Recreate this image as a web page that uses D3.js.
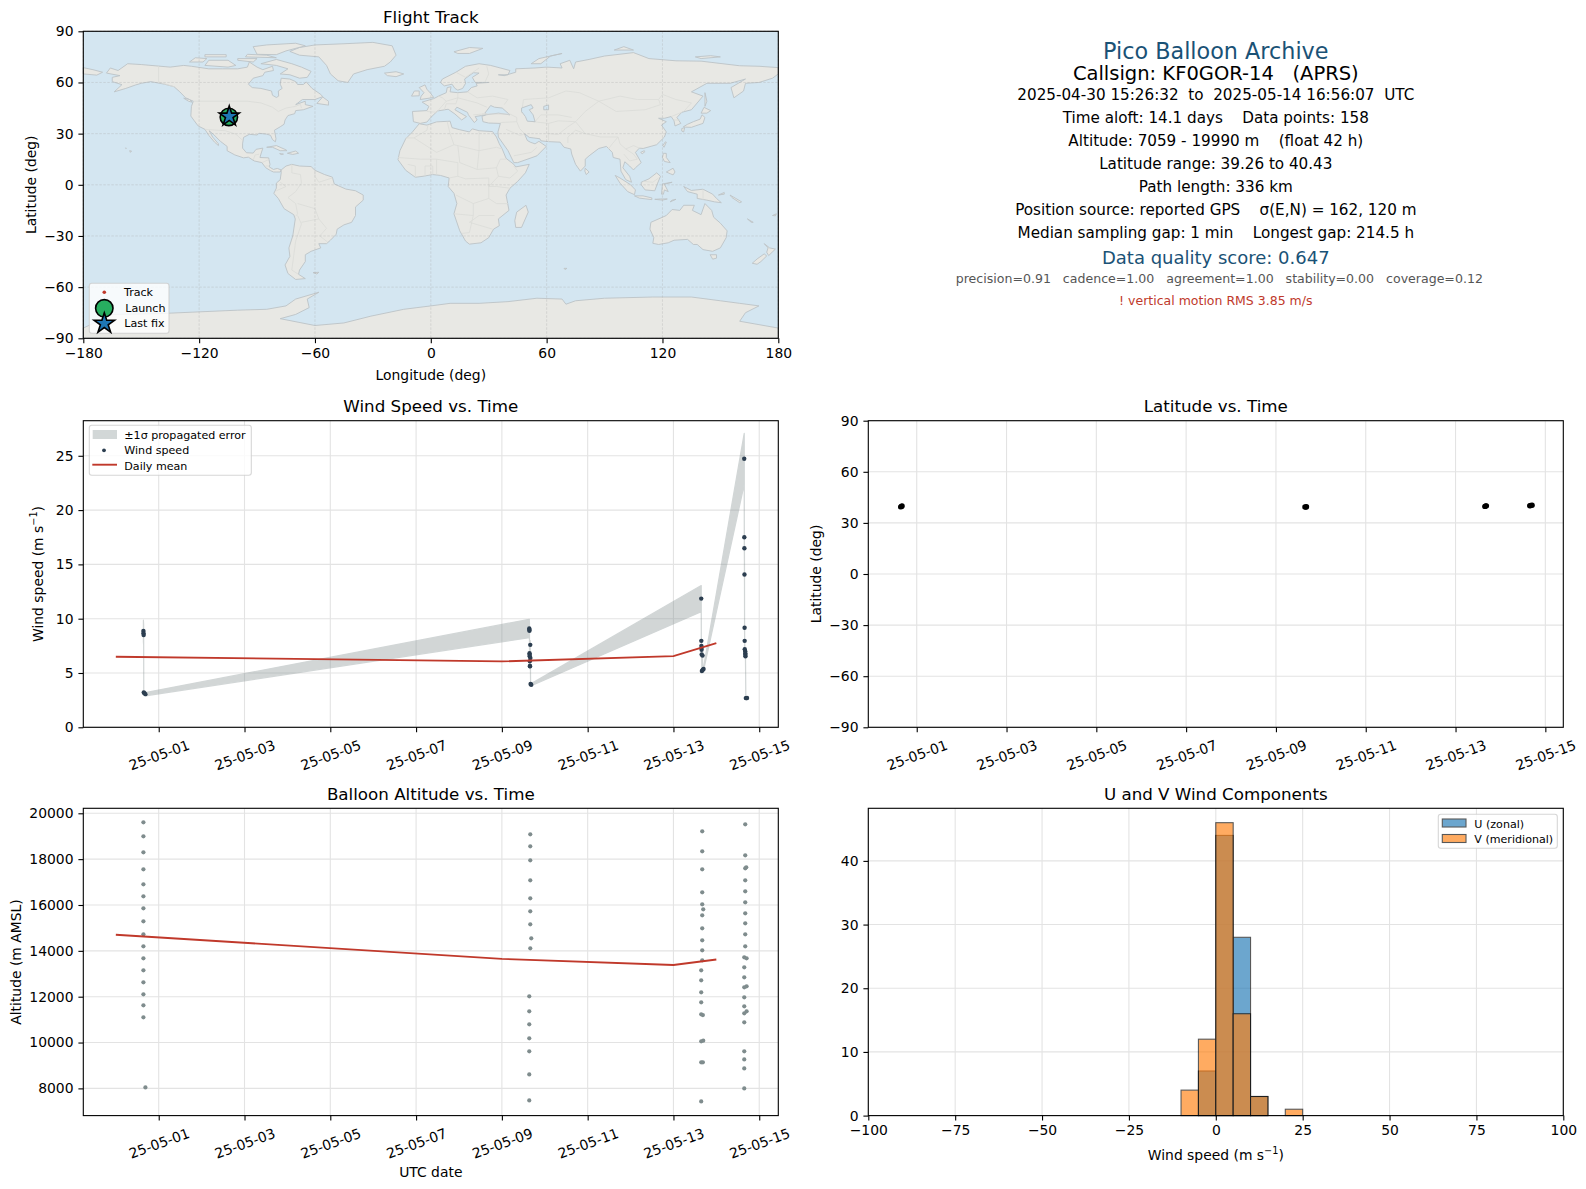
<!DOCTYPE html>
<html>
<head>
<meta charset="utf-8">
<script src="https://cdn.jsdelivr.net/npm/d3@7"></script>
<style>
    html, body { margin: 0; padding: 0; background: #fff; }
    text { font-family: "DejaVu Sans", sans-serif; white-space: pre; }
</style>
</head>
<body>
<svg id="fig" width="1586" height="1189"></svg>
<script>
// ---- values ----

const lonTicks = [-180, -120, -60, 0, 60, 120, 180]
const latTicks = [-90, -60, -30, 0, 30, 60, 90]
const dateTicks = ["2025-05-01", "2025-05-03", "2025-05-05", "2025-05-07", "2025-05-09", "2025-05-11", "2025-05-13", "2025-05-15"]
const windTicks = [0, 5, 10, 15, 20, 25]
const altTicks = [8000, 10000, 12000, 14000, 16000, 18000, 20000]
const histXTicks = [-100, -75, -50, -25, 0, 25, 50, 75, 100]
const histYTicks = [0, 10, 20, 30, 40]

const summaryLines = [
    "Pico Balloon Archive",
    "Callsign: KF0GOR-14   (APRS)",
    "2025-04-30 15:26:32  to  2025-05-14 16:56:07  UTC",
    "Time aloft: 14.1 days    Data points: 158",
    "Altitude: 7059 - 19990 m    (float 42 h)",
    "Latitude range: 39.26 to 40.43",
    "Path length: 336 km",
    "Position source: reported GPS    \u03c3(E,N) = 162, 120 m",
    "Median sampling gap: 1 min    Longest gap: 214.5 h",
    "Data quality score: 0.647",
    "precision=0.91   cadence=1.00   agreement=1.00   stability=0.00   coverage=0.12",
    "! vertical motion RMS 3.85 m/s"
]

const windTimes = [
    "04-30 15:26", "04-30 15:30", "04-30 15:34", "04-30 15:38", "04-30 16:00", "04-30 16:33",
    "05-09 15:20", "05-09 15:23", "05-09 15:26", "05-09 15:29", "05-09 15:32", "05-09 15:35", "05-09 15:38",
    "05-09 15:42", "05-09 15:45", "05-09 15:53", "05-09 15:56", "05-09 16:04", "05-09 16:26",
    "05-13 15:33", "05-13 15:36", "05-13 15:39", "05-13 15:42", "05-13 15:45", "05-13 15:48",
    "05-13 15:55", "05-13 16:17", "05-13 16:20", "05-13 16:50",
    "05-14 15:36", "05-14 15:39", "05-14 15:42", "05-14 15:45", "05-14 15:48", "05-14 15:51", "05-14 15:54",
    "05-14 16:09", "05-14 16:12", "05-14 16:15", "05-14 16:18", "05-14 16:30", "05-14 16:50", "05-14 17:10"
]
const windSpeeds = [
    8.86, 8.67, 8.49, 3.2, 3.15, 3.05,
    9.1, 8.98, 8.89, 6.82, 6.67, 6.54, 6.08,
    5.65, 5.62, 7.59, 6.39, 3.98, 3.92,
    11.85, 7.96, 7.5, 7.31, 7.13, 6.7,
    5.18, 6.6, 5.28, 5.37,
    24.72, 17.5, 16.48, 14.07, 9.17, 7.96, 7.19,
    7.0, 6.82, 6.67, 6.54, 2.69, 2.69, 2.7
]
const windSigma = [
    1.0, 0.95, 0.9, 0.2, 0.18, 0.15,
    0.85, 0.8, 0.75, 0.4, 0.35, 0.3, 0.3,
    0.25, 0.25, 0.4, 0.3, 0.12, 0.1,
    1.2, 0.4, 0.35, 0.35, 0.3, 0.3,
    0.12, 0.3, 0.12, 0.15,
    2.35, 1.2, 1.1, 0.9, 0.4, 0.3, 0.3,
    0.25, 0.25, 0.25, 0.25, 0.08, 0.08, 0.08
]

const meanDays = ["04-30 00:00", "05-09 00:00", "05-13 00:00", "05-14 00:00"]
const meanWind = [6.5, 6.07, 6.55, 7.75]
const meanAlt = [14700, 13650, 13380, 13620]

const altTimes = [
    "04-30 15:26", "04-30 15:26", "04-30 15:26", "04-30 15:26", "04-30 15:26", "04-30 15:26", "04-30 15:26", "04-30 15:26",
    "04-30 15:26", "04-30 15:26", "04-30 15:26", "04-30 15:26", "04-30 15:26", "04-30 15:26", "04-30 15:26", "04-30 15:26", "04-30 16:33",
    "05-09 15:53", "05-09 15:53", "05-09 15:53", "05-09 15:53", "05-09 15:53", "05-09 15:53", "05-09 15:53", "05-09 16:27", "05-09 15:53",
    "05-09 15:20", "05-09 15:20", "05-09 15:20", "05-09 15:20", "05-09 15:20", "05-09 15:20", "05-09 15:20",
    "05-13 16:06", "05-13 16:06", "05-13 16:06", "05-13 16:06", "05-13 16:06", "05-13 16:40", "05-13 16:06", "05-13 16:06", "05-13 16:06", "05-13 16:06", "05-13 16:06",
    "05-13 15:32", "05-13 15:32", "05-13 15:32", "05-13 15:32", "05-13 15:32", "05-13 16:28", "05-13 15:32", "05-13 16:40", "05-13 15:32", "05-13 16:28", "05-13 15:32",
    "05-14 16:10", "05-14 16:10", "05-14 16:10", "05-14 16:44", "05-14 16:10", "05-14 16:10", "05-14 16:10", "05-14 16:10", "05-14 16:10", "05-14 16:10", "05-14 16:10",
    "05-14 15:37", "05-14 16:56", "05-14 15:37", "05-14 15:37", "05-14 15:37", "05-14 16:56", "05-14 15:37", "05-14 15:37", "05-14 15:37", "05-14 16:56", "05-14 15:37",
    "05-14 15:37", "05-14 15:37", "05-14 15:37", "05-14 15:37"
]
const altValues = [
    19607, 18996, 18298, 17556, 16901, 16378, 15854, 15287, 14720, 14196, 13673, 13149, 12625, 12102, 11622, 11098, 8044,
    19083, 18560, 17949, 17076, 16291, 15723, 15156, 14545, 14109,
    12014, 11360, 10793, 10182, 9615, 8611, 7476,
    19214, 18342, 17556, 16552, 16029, 15811, 15549, 14982, 14458, 14022, 13585,
    13149, 12713, 12189, 11753, 11229, 11200, 10051, 10080, 9135, 9135, 7433,
    19520, 18167, 17600, 17644, 17076, 16596, 16116, 15636, 15200, 14720, 14196,
    13716, 13673, 13280, 12843, 12407, 12451, 11971, 11578, 11273, 11360, 10880,
    9615, 9265, 8873, 8000
]

const latTimes = ["04-30 15:26", "04-30 15:50", "04-30 16:10", "05-09 15:30", "05-09 16:00", "05-09 16:20", "05-13 15:40", "05-13 16:10", "05-13 16:30", "05-14 15:40", "05-14 16:15", "05-14 16:56"]
const latValues = [39.4, 39.7, 39.9, 39.3, 39.26, 39.45, 39.7, 39.9, 40.0, 40.05, 40.25, 40.43]

const trackLon = [-104.9, -104.5, -104.2, -103.9]
const trackLat = [39.4, 39.3, 39.9, 40.43]
const launchPos = [-104.6, 39.8]
const lastPos = [-104.4, 40.1]

// histogram: 5 m/s bins from -100 to 100
const binEdges = d3.range(-100, 100, 5)
const uCounts = [0,0,0,0,0,0,0,0,0,0,0,0,0,0,0,0,0,0,0,7,44,28,3,0,0,0,0,0,0,0,0,0,0,0,0,0,0,0,0,0]
const vCounts = [0,0,0,0,0,0,0,0,0,0,0,0,0,0,0,0,0,0,4,12,46,16,3,0,1,0,0,0,0,0,0,0,0,0,0,0,0,0,0,0]

// rough coastlines, lon/lat
const land = [
    // north america
    [[-168,65.5],[-166,68.5],[-162,67],[-157,71],[-150,70.5],[-141,69.6],[-135,69],[-128,70],[-124,69.5],[-115,68],[-108,68],[-100,68],[-95,69],[-94,72],[-90,69],[-87,67.5],[-82,69.5],[-81.5,67],[-86,66],[-87,64],[-92,62.5],[-94.5,59],[-92.5,57],[-88,56.5],[-82.5,55],[-82,52.5],[-80,51.2],[-78.8,52],[-79,55],[-77,56.5],[-78,59],[-77.5,62.5],[-73,62],[-70,60.5],[-69,58.8],[-66,58.8],[-64.5,60.3],[-61.5,56.5],[-57,53],[-56,51.7],[-60,50],[-66.5,50],[-70,47],[-65,49],[-65,47],[-61,46],[-66,44],[-70,43.5],[-70.5,41.7],[-74,40.6],[-75.5,38],[-76,35.5],[-78,34],[-81,32],[-80.2,27],[-80.5,25.2],[-82,26.5],[-83,29],[-85,29.7],[-89,30.2],[-90,29.2],[-94,29.6],[-97,27.8],[-97.5,24],[-97.5,21.5],[-95.5,18.8],[-92,18.6],[-90.5,20.8],[-87,21.5],[-88,18],[-88.5,16],[-84,15.8],[-83.3,12],[-83.7,10.5],[-81.5,9],[-79.5,9.6],[-77.5,8.7],[-78,7.5],[-80,7.5],[-81.5,7.5],[-83,8.3],[-85.5,10],[-87.5,13],[-91.5,14],[-94.5,16.2],[-97,15.8],[-101.5,17.5],[-105.5,20],[-105.5,22.5],[-109,25.5],[-112.5,29.5],[-114.8,31.7],[-113,28],[-110,24],[-110,23],[-112,25],[-115,29],[-117,32.5],[-120.5,34.5],[-122.5,37.5],[-124.3,40.3],[-124,46],[-123,49],[-127,51],[-130,54.5],[-133,57.5],[-138,59],[-145,60.5],[-150,59.5],[-153,58.5],[-158,56.5],[-164,54.5],[-160,58.7],[-165,60.5],[-165,63],[-161,64]],
    // south america
    [[-77.5,8.7],[-75,11],[-72,12],[-68,11],[-62,10.7],[-60,8.5],[-55,6],[-51,4.5],[-50,0.5],[-44,-2.5],[-39,-3.5],[-35,-6],[-35,-9],[-39,-13],[-39,-18],[-41,-22],[-45,-23.5],[-48.5,-26],[-49,-29],[-52,-32.5],[-54,-34.5],[-58,-34.5],[-57,-37],[-62,-39],[-65,-41],[-65,-45],[-68,-50],[-68.5,-52.5],[-65,-55],[-70,-55.5],[-74,-52],[-75.5,-47],[-73,-42],[-73.5,-37],[-71.5,-30],[-70.2,-20],[-71,-17.5],[-76,-14],[-79,-8],[-81.3,-5],[-80,-2],[-80,1],[-78,3],[-77.5,7]],
    // greenland
    [[-73,78.2],[-68,80.5],[-60,82],[-45,82.7],[-30,83.5],[-20,81.5],[-18,76],[-21,72],[-24,69.5],[-33,67.5],[-40,65],[-43,60],[-48,61],[-52,65],[-54,70],[-58,75],[-68,76]],
    // africa
    [[-6,35.8],[-2,35],[3,36.9],[10,37.3],[11,33.5],[15,32.3],[20,31],[21.5,32.8],[25,31.7],[32,31.2],[34,28],[35.5,24],[37,21],[39,15.5],[43,12],[44,10.5],[51,12],[49,7],[45,2],[41,-2],[39,-6],[40.5,-15],[35,-20],[35.5,-24],[32.5,-26],[30,-31],[26,-34],[20,-34.8],[18,-33],[15,-27],[12,-17],[13.5,-11],[12,-5],[9,-1],[9.5,4],[5,5.5],[1,6],[-4,5],[-8,4.4],[-13,8.5],[-17,14.7],[-16,20],[-13,27],[-9.5,31]],
    // eurasia
    [[-9,37],[-9.5,43],[-2,43.5],[-1,46],[-4.5,48.5],[1.5,50.5],[4,52],[8,54],[8.5,57],[10.5,57.5],[10,54.5],[14,54],[19,54.5],[21,57],[24,58],[23.5,59.5],[30,60],[23,60],[21.5,63],[25,65.5],[22,65.7],[17.5,62],[18,59.5],[16.5,56.5],[14,55.5],[12.5,56.5],[11,59],[7,58],[5,60],[6,62],[13,66],[18,69.5],[25,71],[31,70],[41,67],[40,64.5],[35,64.5],[38,64],[44,66],[44,68],[54,68.5],[60,69],[68,68.5],[67,71],[72,73],[74,68],[75,72],[82,73.5],[90,75.5],[105,77.5],[113,74],[127,72.7],[140,72.5],[160,69.8],[170,69.5],[180,68.7],[180,65],[177,62.5],[170,60],[163,59.5],[162,55],[157,51],[155.5,57],[163,62],[155,59.5],[143,59.5],[135,54.5],[141,52],[135,44],[130,42.5],[127.5,39.5],[129.5,36],[126.5,34.5],[126,37.5],[124.5,40],[121,39],[118,39],[122,37],[119.5,35],[122,31],[121,28],[117,23.5],[110,21.3],[108,21.5],[106,19],[109,13],[106,10],[105,8.7],[103,11],[100.5,13.5],[99.5,10],[103,5],[104,1.5],[101,3],[98.5,8],[98,15],[94.5,16],[94,19],[91,22.5],[87,21.3],[82,17],[80,15],[80,11],[77.5,8],[75,12],[73,18],[72.5,21],[69,22],[67,25],[61,25.3],[57,25.8],[56.5,27],[51,27.8],[48.5,30],[50,26],[51.5,25],[54,24],[56,25.5],[59.8,22.5],[55,17],[45,13],[43,13],[40,20],[35,28],[34.8,31],[36,36],[30,36.2],[27,37],[26.5,40.2],[29,41.1],[35,42],[41,41],[37,45],[33,45.5],[31,46.5],[28,42],[28.8,41.3],[26.3,40.6],[23,40],[24,38],[22.5,36.5],[19.5,41],[19,42.5],[13.5,45.5],[12.5,44],[18.5,40],[16,38],[12.5,41.5],[9,44.3],[3.5,43.3],[0,39.5],[-2,36.8],[-5.5,36]],
    // far east tip of russia, wrapped to the left edge
    [[-180,68.7],[-175,67.5],[-170,66],[-173,64.3],[-180,65]],
    // australia and friends
    [[114,-22],[122,-18],[125,-14.5],[129,-15],[131,-12],[136.5,-12],[135.5,-15],[140,-17.5],[142,-11],[145.5,-15],[146.5,-19],[150,-22.5],[153.5,-27],[153,-31],[150,-37],[146,-39],[141,-38],[138,-35],[136,-35],[133,-32],[126,-32.5],[123,-34],[118,-35],[115,-34.3],[115.5,-31],[113.5,-26]],
    [[144.7,-41],[148,-41],[148,-43],[146,-43.6]],
    [[172.7,-34.5],[175.5,-37],[178.5,-37.7],[175,-41.5],[174,-39.5],[174.7,-37]],
    [[172.7,-40.5],[174,-41.7],[171,-45],[169,-46.6],[166.5,-46],[169,-43.5]],
    [[131,-1],[135,-3.3],[141,-2.6],[146,-5.5],[148,-8],[150.5,-10.5],[147,-10],[143,-9],[138,-8],[138,-5.5],[133,-4]],
    [[149,-6],[152,-4.5],[152,-5.5]],
    [[155,-6],[158,-8],[161,-10],[160,-10.5],[156,-7.5]],
    [[164,-20],[167,-22],[166,-22]],
    [[177,-18],[179,-17],[178.5,-18.2]],
    // madagascar, sri lanka
    [[49.3,-12],[50.5,-16],[47,-25],[44,-25],[43.5,-21],[44.5,-16]],
    [[80,9.7],[82,7.5],[80.5,6],[79.8,8]],
    // asia islands
    [[109,1.5],[113,3.5],[117,7],[119,5],[117.5,1],[116,-3.5],[111,-3],[109,0]],
    [[95.5,5.5],[98,4],[103.5,0],[106,-3],[105.5,-5.8],[102,-4],[98,1]],
    [[105.5,-6.5],[110,-6.5],[114.5,-7.7],[114.5,-8.7],[108,-7.8]],
    [[119.5,-5.5],[120,0.5],[125,1.5],[121,0.3],[123,-4],[121,-3],[120.5,-5.5]],
    [[124,-10],[127,-8.5],[125,-9]],
    [[116,-8.5],[119,-8.3],[122.5,-8.3],[120,-9]],
    [[120.5,18.5],[122,18.4],[122,16],[124,13],[121,13.7],[120,16]],
    [[122,7.5],[125.5,9.7],[126.5,7.5],[125.5,5.8],[124,6.5]],
    [[120.2,23],[121.5,25.2],[122,25],[120.8,22]],
    [[108.7,19],[110.5,20],[111,19.5],[109.5,18.2]],
    [[130.8,34],[133,35.5],[136,37],[139.5,38.5],[140.5,41],[142,39.5],[141,36],[137,34.5],[135,33.7],[132,33.8]],
    [[130,33],[131.5,33.5],[131,31],[130,31.5]],
    [[140,42],[141.5,45.4],[145,43.5],[143,42]],
    [[142,54],[143,49],[142,46],[142,50]],
    // atlantic and arctic
    [[-5.5,50],[1.5,51.2],[0,53.5],[-2,56],[-3,58.6],[-6,57],[-3.5,54],[-5,52]],
    [[-10,52],[-6,52.2],[-6,55],[-8.5,55]],
    [[-24,65.5],[-18,66.3],[-14,65],[-18,63.4],[-22.5,64]],
    [[12,78],[20,80.5],[27,80],[20,77],[14,77]],
    [[52,71],[56,74],[68,77],[62,75.5],[57,71]],
    [[95,79],[105,79],[100,81]],
    [[137,75],[145,75.7],[150,75],[140,74]],
    [[-80,73.5],[-72,71],[-67,69],[-62,66.5],[-64,63],[-68,62.5],[-73,64.5],[-78,65],[-74,68],[-80,70],[-88,71]],
    [[-90,76.5],[-80,76.3],[-75,78.5],[-65,81.5],[-70,83],[-85,82],[-92,81]],
    [[-117,70],[-105,69],[-101,70],[-105,73],[-115,73]],
    [[-125,72],[-118,72],[-116,74],[-122,74.5]],
    [[-96,75],[-80,74.5],[-85,76],[-95,76.5]],
    [[-100,73],[-92,72],[-90,74],[-100,74]],
    [[-117,75],[-106,75],[-106,76.3],[-117,76.3]],
    [[-59,47.7],[-53,46.7],[-53,49],[-56,51.5]],
    [[-128,50.8],[-125,50],[-123.5,48.4],[-125.5,49]],
    [[-85,22],[-80,23],[-75,20.5],[-74.5,20],[-78,20],[-82,22]],
    [[-74.3,18.5],[-70,19.8],[-68.5,18.5],[-71.5,17.8]],
    [[-78.3,18.3],[-76.3,18],[-77.5,17.8]],
    [[-156,20],[-155,19.8],[-155.6,19]],
    [[-158.2,21.6],[-157.7,21.4],[-157.9,21.2]],
    [[-61,-51.5],[-58,-51.3],[-59,-52.3]],
    [[69,-49],[70.5,-49],[69.5,-49.7]],
    // antarctica
    [[-180,-84],[-165,-76],[-140,-75.5],[-120,-74.5],[-100,-73.5],[-85,-73],[-75,-71],[-70,-67],[-58,-63],[-64,-67],[-63,-72],[-70,-76],[-78,-78.5],[-60,-82.5],[-45,-81],[-31,-77],[-14,-73],[0,-71],[10,-69.5],[25,-69.5],[40,-68.5],[55,-66.5],[68,-67],[70,-70],[75,-68],[90,-66.5],[115,-65.8],[135,-65.8],[150,-68],[160,-69.5],[170,-71],[163,-75],[160,-80],[170,-82],[180,-84],[180,-90],[-180,-90]]
]
const lakes = [
    [[47,45],[52,47],[53,45],[51,44],[53,41],[54,37],[50,37.3],[49,40],[47,43]],
    [[58.5,46],[61,46.8],[61,44],[58.5,44]]
]
const borders = [
    [[-141,69.6],[-141,60.3],[-133,57.5]], [[-123,49],[-95,49],[-88,48],[-82,45.5],[-79,43],[-75,45],[-70,46],[-67.5,47.2],[-67,45]],
    [[-117,32.5],[-106.5,31.7],[-101,29.7],[-97.3,25.9]], [[-92,14.5],[-91,17.5],[-89,17.9]], [[-87.5,13],[-83.5,15]], [[-85.5,11],[-83.7,11]],
    [[-72,12],[-72,7],[-67.5,6],[-67,1],[-70,-4],[-74,-7.5],[-70,-11],[-69,-17],[-70,-18.5]], [[-80,-3.5],[-75,-1],[-78,1.5]], [[-60,8.5],[-60,5],[-58,1.5],[-51,4]],
    [[-69,-11],[-60,-14],[-58,-20],[-54,-25.5],[-57.5,-30],[-53.5,-33.5]], [[-69,-18],[-67,-23],[-70,-33],[-72,-50],[-68.5,-52.5]], [[-67,-22],[-58,-20]],
    [[-8.7,27.5],[-2,32],[-1.5,35]], [[-13,27.5],[-8.7,27.5],[3,19],[12,23.5],[10,30],[8.5,37]], [[25,31.7],[25,20],[34,22],[37,21]], [[12,23.5],[25,20],[24,9],[15,13],[14,23]], [[-17,16],[-5,15],[3,15],[14,13],[14,5],[9.5,4]],
    [[3,6],[3,15]], [[-8,4.4],[-8,11],[-12,12]], [[-3,5],[-3,11],[1,11],[1,6]], [[24,9],[34,10],[36,15],[39,15]], [[34,10],[35,5],[41,4],[45,8],[43,11]], [[35,5],[30,-1],[34,-1],[41,-2]],
    [[14,5],[18,3.5],[30,4],[30,-8],[22,-11],[13,-6]], [[22,-11],[22,-18],[12,-17]], [[30,-8],[34,-11],[40,-11]], [[22,-18],[20,-28],[16,-28.5]], [[33,-18],[25,-18],[20,-22],[32,-26]],
    [[-2,43],[3,42.5],[8,49],[6,51],[4,52]], [[8,49],[14,51],[19,49.5],[24,48],[29,45.5]], [[14,54],[14,51],[13,47.5],[8,47.5],[7,44]], [[19,54.5],[24,51],[32,52],[40,50],[38,47]],
    [[28,60],[30,65],[29,69.5]], [[13,66],[18,63],[25,68.5]], [[22,41],[29,41.7]], [[26.5,41.5],[41,41.5],[44.5,39.5],[44.5,37],[36,36.5]], [[44.5,37],[46,33],[48.5,30]], [[39,32.5],[46,29],[48,29.5]], [[43,17],[52,19],[55,22]],
    [[47,42],[48,50],[61,51],[70,55],[77,54],[87,49]], [[87,49],[98,52],[107,50],[118,50],[120,53],[127,50],[135,48],[131,43]], [[87,49],[96,43],[111,44],[119,47],[118,50]], [[53,37],[61,36],[66,37.5],[75,37]],
    [[61,36],[61,30],[61,25.3]], [[61,30],[66,29.5],[71,34],[75,37],[80,30],[88,28],[97,28]], [[75,37],[80,43],[87,49]], [[71,24.5],[71,28],[75,32],[80,30]], [[97,28],[98,24],[101,21],[105,23],[108,21.5]], [[92,21],[94,24],[97,28]],
    [[101,21],[105,18],[107,15],[103,14],[100,18]], [[54,37],[57,41],[66,41],[73,39.5]], [[124.5,40],[130,42.5]], [[126,38],[129,38]], [[141,-2.6],[141,-9]], [[110,2],[115,1.5],[118,4]]
]

// ---- layout ----

const parseT = d3.utcParse("%Y-%m-%d %H:%M")
const t = s => parseT("2025-" + s)
const parseD = d3.utcParse("%Y-%m-%d")

const fmtDate = d3.utcFormat("%y-%m-%d")
const fmtSigned = d => String(d).replace("-", "\u2212")

const svg = d3.select("#fig")

const FONT = 13.9
const INK = "#000"
const GRID = "#e3e3e3"
const RED = "#c0392b"
const NAVY = "#2c3e50"
const SLATE = "#7f8c8d"
const BLUE_TXT = "#1a5276"

function panel(box, title, xScale, yScale, xTickVals, yTickVals, xFmt, yFmt, rotate){
    const g = svg.append("g")
    const grid = g.append("g")
    xTickVals.forEach(v => {
        grid.append("line").attr("x1", xScale(v)).attr("x2", xScale(v))
            .attr("y1", box.top).attr("y2", box.bottom)
    })
    yTickVals.forEach(v => {
        grid.append("line").attr("x1", box.left).attr("x2", box.right)
            .attr("y1", yScale(v)).attr("y2", yScale(v))
    })
    grid.selectAll("line").attr("stroke", GRID).attr("stroke-width", 1.1)

    const marks = g.append("g")

    const over = svg.append("g")
    over.append("rect")
        .attr("x", box.left).attr("y", box.top)
        .attr("width", box.right - box.left).attr("height", box.bottom - box.top)
        .attr("fill", "none").attr("stroke", INK).attr("stroke-width", 1.1)

    const xAxis = over.append("g")
        .attr("transform", `translate(0,${box.bottom})`)
        .call(d3.axisBottom(xScale).tickValues(xTickVals).tickFormat(xFmt).tickSize(4.9).tickPadding(4.9))
    const yAxis = over.append("g")
        .attr("transform", `translate(${box.left},0)`)
        .call(d3.axisLeft(yScale).tickValues(yTickVals).tickFormat(yFmt).tickSize(4.9).tickPadding(4.9))

    ;[xAxis, yAxis].forEach(a => {
        a.select(".domain").remove()
        a.selectAll(".tick line").attr("stroke", INK).attr("stroke-width", 1.1)
        a.selectAll("text").attr("font-size", FONT).attr("fill", INK)
            .attr("font-family", '"DejaVu Sans"')
    })
    if(rotate){
        xAxis.selectAll("text")
            .attr("text-anchor", "middle")
            .attr("dy", null)
            .attr("y", 0)
            .attr("dominant-baseline", "central")
            .attr("transform", `translate(0,27.7) rotate(-20)`)
    }

    over.append("text")
        .attr("x", (box.left + box.right) / 2).attr("y", box.top - 8.3)
        .attr("text-anchor", "middle").attr("font-size", 16.7).attr("fill", INK)
        .text(title)

    return {marks, over}
}

function axisLabel(x, y, label, vertical){
    const el = svg.append("text")
        .attr("text-anchor", "middle").attr("dominant-baseline", "central")
        .attr("font-size", FONT).attr("fill", INK)
        .attr("transform", `translate(${x},${y})` + (vertical ? " rotate(-90)" : ""))
    label(el)
}

function legendBox(g, x, y, w, h){
    g.append("rect").attr("x", x).attr("y", y).attr("width", w).attr("height", h)
        .attr("rx", 2.5).attr("fill", "#fff").attr("fill-opacity", 0.8)
        .attr("stroke", "#ccc").attr("stroke-opacity", 0.8).attr("stroke-width", 1.1)
}

function legendText(g, x, y, str){
    g.append("text").attr("x", x).attr("y", y).attr("dominant-baseline", "central")
        .attr("font-size", 11.1).attr("fill", INK).text(str)
}

// ---- flight track ----

const mapBox = {left: 83.3, right: 778.3, top: 31.3, bottom: 338.3}
const lonScale = d3.scaleLinear().domain([-180, 180]).range([mapBox.left, mapBox.right])
const latScale = d3.scaleLinear().domain([-90, 90]).range([mapBox.bottom, mapBox.top])

const mapPanel = panel(mapBox, "Flight Track", lonScale, latScale, lonTicks, latTicks, fmtSigned, fmtSigned)
const coast = d3.line().x(d => lonScale(d[0])).y(d => latScale(d[1]))

mapPanel.marks.append("rect")
    .attr("x", mapBox.left).attr("y", mapBox.top)
    .attr("width", mapBox.right - mapBox.left).attr("height", mapBox.bottom - mapBox.top)
    .attr("fill", "#d4e6f1")
mapPanel.marks.selectAll("path.land")
    .data(land)
    .join("path")
    .attr("class", "land")
    .attr("d", d => coast(d) + "Z")
    .attr("fill", "#e8e8e4")
    .attr("stroke", "#bcc3c6")
    .attr("stroke-width", 0.9)
    .attr("stroke-linejoin", "round")
mapPanel.marks.selectAll("path.border")
    .data(borders)
    .join("path")
    .attr("class", "border")
    .attr("d", coast)
    .attr("fill", "none")
    .attr("stroke", "#dbdcd8")
    .attr("stroke-width", 0.8)
mapPanel.marks.selectAll("path.lake")
    .data(lakes)
    .join("path")
    .attr("class", "lake")
    .attr("d", d => coast(d) + "Z")
    .attr("fill", "#d4e6f1")
    .attr("stroke", "#bcc3c6")
    .attr("stroke-width", 0.9)

lonTicks.forEach(v => {
    mapPanel.marks.append("line")
        .attr("x1", lonScale(v)).attr("x2", lonScale(v))
        .attr("y1", mapBox.top).attr("y2", mapBox.bottom)
        .attr("stroke", "#aaa").attr("stroke-opacity", 0.45)
        .attr("stroke-width", 0.7).attr("stroke-dasharray", "2.5 1.5")
})
latTicks.forEach(v => {
    mapPanel.marks.append("line")
        .attr("x1", mapBox.left).attr("x2", mapBox.right)
        .attr("y1", latScale(v)).attr("y2", latScale(v))
        .attr("stroke", "#aaa").attr("stroke-opacity", 0.45)
        .attr("stroke-width", 0.7).attr("stroke-dasharray", "2.5 1.5")
})

const starPath = d3.symbol().type(d3.symbolStar).size(124)()
const starLegend = d3.symbol().type(d3.symbolStar).size(130)()

mapPanel.marks.selectAll("circle.track")
    .data(d3.zip(trackLon, trackLat))
    .join("circle")
    .attr("class", "track")
    .attr("cx", d => lonScale(d[0])).attr("cy", d => latScale(d[1]))
    .attr("r", 1.5).attr("fill", RED)
mapPanel.marks.append("circle")
    .attr("cx", lonScale(launchPos[0])).attr("cy", latScale(launchPos[1]))
    .attr("r", 8.7).attr("fill", "#27ae60").attr("stroke", INK).attr("stroke-width", 1.6)
mapPanel.marks.append("path")
    .attr("d", starPath)
    .attr("transform", `translate(${lonScale(lastPos[0])},${latScale(lastPos[1])})`)
    .attr("fill", "#1f77b4").attr("stroke", INK).attr("stroke-width", 1.6)

const mapLegend = mapPanel.over.append("g")
legendBox(mapLegend, 89.3, 283.3, 79.7, 50)
mapLegend.append("circle").attr("cx", 104.3).attr("cy", 292.3).attr("r", 1.8).attr("fill", RED)
mapLegend.append("circle").attr("cx", 104.3).attr("cy", 308.3).attr("r", 8.7)
    .attr("fill", "#27ae60").attr("stroke", INK).attr("stroke-width", 1.6)
mapLegend.append("path").attr("d", starLegend).attr("transform", "translate(104.3,323.5)")
    .attr("fill", "#1f77b4").attr("stroke", INK).attr("stroke-width", 1.6)
legendText(mapLegend, 124, 292.3, "Track")
legendText(mapLegend, 125.3, 308.3, "Launch")
legendText(mapLegend, 124.3, 323.3, "Last fix")

axisLabel(430.8, 374.8, el => el.text("Longitude (deg)"))
axisLabel(30.5, 184.8, el => el.text("Latitude (deg)"), true)

// ---- summary text ----

const summaryY = [51, 73, 94.5, 117.7, 140.7, 163.6, 186.6, 209.6, 232.6, 257, 278.5, 300.4]
const summarySize = [22.3, 19.5, 15.2, 15.2, 15.2, 15.2, 15.2, 15.2, 15.2, 18, 12.57, 12.5]
const summaryFill = [BLUE_TXT, INK, INK, INK, INK, INK, INK, INK, INK, BLUE_TXT, "#555", RED]

svg.append("g").selectAll("text")
    .data(summaryLines)
    .join("text")
    .attr("x", (d, i) => i === 10 ? 1219.3 : 1215.8)
    .attr("y", (d, i) => summaryY[i])
    .attr("text-anchor", "middle")
    .attr("dominant-baseline", "central")
    .attr("font-size", (d, i) => summarySize[i])
    .attr("fill", (d, i) => summaryFill[i])
    .text(d => d)

// ---- wind speed ----

const midBox = {left: 83.3, right: 778.3, top: 420.7, bottom: 727.3}
const timeDomain = [new Date(Date.UTC(2025, 3, 29, 5, 48)), new Date(Date.UTC(2025, 4, 15, 10, 40))]
const dateVals = dateTicks.map(parseD)

const tx = d3.scaleUtc().domain(timeDomain).range([midBox.left, midBox.right])
const windY = d3.scaleLinear().domain([0, 28.23]).range([midBox.bottom, midBox.top])

const windPanel = panel(midBox, "Wind Speed vs. Time", tx, windY, dateVals, windTicks, fmtDate, d => d, true)
const windRows = windTimes.map((s, i) => ({time: t(s), speed: windSpeeds[i], sigma: windSigma[i]}))

windPanel.marks.append("path")
    .datum(windRows)
    .attr("d", d3.area()
        .x(d => tx(d.time))
        .y0(d => windY(d.speed - d.sigma))
        .y1(d => windY(d.speed + d.sigma)))
    .attr("fill", SLATE).attr("stroke", SLATE).attr("stroke-width", 1.2)
    .attr("stroke-linejoin", "round").attr("opacity", 0.35)
windPanel.marks.selectAll("circle")
    .data(windRows)
    .join("circle")
    .attr("cx", d => tx(d.time)).attr("cy", d => windY(d.speed))
    .attr("r", 2.2).attr("fill", NAVY)
windPanel.marks.append("path")
    .datum(meanDays.map((s, i) => [t(s), meanWind[i]]))
    .attr("d", d3.line().x(d => tx(d[0])).y(d => windY(d[1])))
    .attr("fill", "none").attr("stroke", RED).attr("stroke-width", 1.9)

const windLegend = windPanel.over.append("g")
legendBox(windLegend, 89.3, 425.3, 162, 50)
windLegend.append("rect").attr("x", 92.7).attr("y", 430).attr("width", 24.3).attr("height", 9)
    .attr("fill", SLATE).attr("fill-opacity", 0.35)
windLegend.append("circle").attr("cx", 104).attr("cy", 450.3).attr("r", 1.9).attr("fill", NAVY)
windLegend.append("line").attr("x1", 92.3).attr("x2", 117).attr("y1", 464.7).attr("y2", 464.7)
    .attr("stroke", RED).attr("stroke-width", 1.9)
legendText(windLegend, 124.3, 435.3, "\u00b11\u03c3 propagated error")
legendText(windLegend, 124.3, 450.3, "Wind speed")
legendText(windLegend, 124.3, 466, "Daily mean")

axisLabel(37.5, 574, el => {
    el.append("tspan").text("Wind speed (m s")
    el.append("tspan").attr("dy", -5).attr("font-size", 9.7).text("\u22121")
    el.append("tspan").attr("dy", 5).text(")")
}, true)

// ---- latitude ----

const latBox = {left: 868.3, right: 1563.3, top: 420.7, bottom: 727.3}
const latTimeDomain = [new Date(Date.UTC(2025, 3, 29, 22, 7)), new Date(Date.UTC(2025, 4, 15, 9, 36))]
const tx2 = d3.scaleUtc().domain(latTimeDomain).range([latBox.left, latBox.right])
const latY = d3.scaleLinear().domain([-90, 90]).range([latBox.bottom, latBox.top])

const latPanel = panel(latBox, "Latitude vs. Time", tx2, latY, dateVals, latTicks, fmtDate, fmtSigned, true)
latPanel.marks.selectAll("circle")
    .data(latTimes.map((s, i) => [t(s), latValues[i]]))
    .join("circle")
    .attr("cx", d => tx2(d[0])).attr("cy", d => latY(d[1]))
    .attr("r", 2.7).attr("fill", "#000")
axisLabel(815.5, 574, el => el.text("Latitude (deg)"), true)

// ---- altitude ----

const lowBox = {left: 83.3, right: 778.3, top: 808.3, bottom: 1115.6}
const altY = d3.scaleLinear().domain([6813, 20218]).range([lowBox.bottom, lowBox.top])
const altPanel = panel(lowBox, "Balloon Altitude vs. Time", tx, altY, dateVals, altTicks, fmtDate, d => d, true)

altPanel.marks.selectAll("circle")
    .data(altTimes.map((s, i) => [t(s), altValues[i]]))
    .join("circle")
    .attr("cx", d => tx(d[0])).attr("cy", d => altY(d[1]))
    .attr("r", 2.1).attr("fill", SLATE)
altPanel.marks.append("path")
    .datum(meanDays.map((s, i) => [t(s), meanAlt[i]]))
    .attr("d", d3.line().x(d => tx(d[0])).y(d => altY(d[1])))
    .attr("fill", "none").attr("stroke", RED).attr("stroke-width", 1.9)

axisLabel(15.5, 962, el => el.text("Altitude (m AMSL)"), true)
axisLabel(430.8, 1171.8, el => el.text("UTC date"))

// ---- u and v histogram ----

const histBox = {left: 868.3, right: 1563.3, top: 808.3, bottom: 1115.6}
const histX = d3.scaleLinear().domain([-100, 100]).range([histBox.left, histBox.right])
const histY = d3.scaleLinear().domain([0, 48.26]).range([histBox.bottom, histBox.top])
const histPanel = panel(histBox, "U and V Wind Components", histX, histY, histXTicks, histYTicks, fmtSigned, d => d)

function drawBars(counts, colour){
    histPanel.marks.append("g")
        .attr("opacity", 0.65)
        .selectAll("rect")
        .data(binEdges.map((e, i) => [e, counts[i]]))
        .join("rect")
        .attr("x", d => histX(d[0]))
        .attr("width", d => histX(d[0] + 5) - histX(d[0]))
        .attr("y", d => histY(d[1]))
        .attr("height", d => histY(0) - histY(d[1]))
        .attr("fill", colour)
        .attr("stroke", "#000")
        .attr("stroke-width", 1.1)
}
drawBars(uCounts, "#1f77b4")
drawBars(vCounts, "#ff7f0e")

const histLegend = histPanel.over.append("g")
legendBox(histLegend, 1438.3, 814.3, 119, 34)
histLegend.append("rect").attr("x", 1442.3).attr("y", 819).attr("width", 23.7).attr("height", 8)
    .attr("fill", "#1f77b4").attr("opacity", 0.65).attr("stroke", "#000").attr("stroke-width", 1.1)
histLegend.append("rect").attr("x", 1442.3).attr("y", 834.5).attr("width", 23.7).attr("height", 8)
    .attr("fill", "#ff7f0e").attr("opacity", 0.65).attr("stroke", "#000").attr("stroke-width", 1.1)
legendText(histLegend, 1474.3, 824, "U (zonal)")
legendText(histLegend, 1474.3, 839, "V (meridional)")

axisLabel(1215.8, 1155, el => {
    el.append("tspan").text("Wind speed (m s")
    el.append("tspan").attr("dy", -5).attr("font-size", 9.7).text("\u22121")
    el.append("tspan").attr("dy", 5).text(")")
})
</script>
</body>
</html>
